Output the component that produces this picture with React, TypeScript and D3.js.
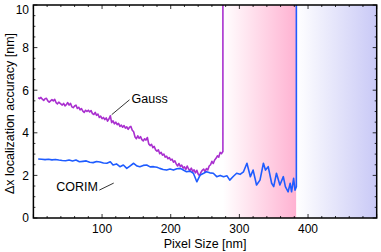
import React, { useEffect, useRef } from 'react';
import * as d3 from 'd3';

// Gauss fit: localization accuracy vs pixel size (fails past ~276 nm)
const gaussPoints: [number, number][] = [
  [7, 5.65], [9, 5.6], [11, 5.66], [13, 5.58], [15, 5.52], [17, 5.6], [19, 5.62], [21, 5.5],
  [23, 5.44], [25, 5.5], [27, 5.56], [29, 5.5], [31, 5.57], [33, 5.42], [35, 5.36], [37, 5.44],
  [39, 5.38], [42, 5.3], [44, 5.38], [46, 5.26], [48, 5.32], [50, 5.42], [52, 5.3], [54, 5.38],
  [56, 5.22], [58, 5.18], [60, 5.26], [62, 5.3], [64, 5.14], [66, 5.2], [68, 5.08], [70, 5.14],
  [72, 5.02], [74, 4.96], [76, 5.06], [78, 5.0], [80, 5.06], [82, 4.98], [84, 5.04], [86, 4.9],
  [88, 4.86], [90, 4.96], [92, 4.82], [94, 4.88], [96, 4.72], [98, 4.78], [100, 4.66], [102, 4.72],
  [104, 4.62], [106, 4.7], [108, 4.55], [110, 4.65], [112, 4.8], [114, 4.48], [116, 4.56], [118, 4.42],
  [120, 4.5], [122, 4.38], [124, 4.44], [126, 4.3], [128, 4.36], [130, 4.26], [132, 4.34], [134, 4.22],
  [136, 4.28], [138, 4.16], [140, 4.26], [142, 4.3], [144, 4.12], [146, 4.05], [148, 3.8], [150, 3.72],
  [152, 3.86], [154, 3.74], [156, 3.82], [158, 3.68], [160, 3.62], [162, 3.72], [164, 3.66], [166, 3.78],
  [168, 3.48], [170, 3.4], [172, 3.46], [174, 3.3], [176, 3.36], [178, 3.2], [180, 3.14], [182, 3.2],
  [184, 3.02], [186, 3.08], [188, 2.95], [190, 3.0], [192, 2.86], [194, 2.9], [196, 2.78], [198, 2.84],
  [200, 2.72], [202, 2.76], [204, 2.62], [206, 2.68], [208, 2.54], [210, 2.44], [212, 2.56], [214, 2.42],
  [216, 2.48], [218, 2.34], [220, 2.4], [222, 2.28], [224, 2.44], [226, 2.3], [228, 2.22], [230, 2.34],
  [232, 2.18], [234, 2.26], [236, 2.12], [238, 2.24], [240, 2.06], [242, 1.98], [244, 2.14], [246, 2.24],
  [248, 2.3], [250, 2.18], [252, 2.32], [254, 2.26], [256, 2.44], [258, 2.5], [260, 2.66], [262, 2.56],
  [264, 2.72], [266, 2.8], [268, 2.92], [270, 2.86], [272, 3.08], [274, 3.02], [276, 3.12], [276, 10],
];

// CORIM: localization accuracy vs pixel size (fails past ~383 nm)
const corimPoints: [number, number][] = [
  [7, 2.77], [12, 2.76], [17, 2.74], [22, 2.76], [27, 2.73], [32, 2.75], [37, 2.72], [42, 2.7],
  [47, 2.69], [52, 2.72], [57, 2.68], [62, 2.72], [67, 2.64], [72, 2.66], [77, 2.68], [82, 2.62],
  [87, 2.6], [92, 2.65], [97, 2.63], [102, 2.58], [107, 2.57], [112, 2.64], [116, 2.49], [121, 2.54],
  [126, 2.41], [131, 2.49], [136, 2.33], [141, 2.45], [146, 2.57], [151, 2.44], [155, 2.41], [160, 2.47],
  [165, 2.49], [170, 2.4], [175, 2.41], [180, 2.38], [184, 2.33], [189, 2.28], [194, 2.25], [199, 2.3],
  [204, 2.25], [209, 2.31], [214, 2.33], [219, 2.24], [223, 2.17], [228, 2.2], [233, 2.1], [238, 1.7],
  [243, 2.02], [248, 2.1], [252, 2.17], [257, 2.12], [262, 2.1], [267, 1.94], [272, 2.0], [277, 1.94],
  [282, 1.98], [286, 1.78], [291, 1.95], [296, 2.1], [301, 2.05], [306, 2.17], [311, 2.57], [316, 1.94],
  [320, 2.25], [325, 1.55], [330, 1.78], [335, 2.57], [338, 2.25], [342, 2.41], [347, 1.63], [350, 1.47],
  [354, 2.1], [359, 1.55], [364, 1.94], [367, 1.47], [371, 1.23], [374, 1.63], [376, 1.23], [379, 1.86],
  [381, 1.31], [383, 1.47], [383, 10],
];

const gaussLimit = 276;
const corimLimit = 383;
const xTicks = [100, 200, 300, 400];
const yTicks = [0, 2, 4, 6, 8, 10];

const App = () => {
  const svgRef: any = useRef();

  useEffect(() => {
    const width = 381;
    const height = 252;
    const left = 33.4, right = 376.7, top = 5, bottom = 218;

    const x = d3.scaleLinear().domain([0, 500]).range([left, right]);
    const y = d3.scaleLinear().domain([0, 10]).range([bottom, top]);

    const svg = d3.select(svgRef.current)
      .attr('width', width)
      .attr('height', height);
    svg.selectAll('*').remove();

    const defs = svg.append('defs');
    const pink = defs.append('linearGradient').attr('id', 'pinkGrad');
    pink.append('stop').attr('offset', '0%').attr('stop-color', '#ffffff');
    pink.append('stop').attr('offset', '100%').attr('stop-color', '#ffb2d2');
    const blue = defs.append('linearGradient').attr('id', 'blueGrad');
    blue.append('stop').attr('offset', '0%').attr('stop-color', '#ffffff');
    blue.append('stop').attr('offset', '100%').attr('stop-color', '#c9c9f6');
    defs.append('clipPath').attr('id', 'plotClip')
      .append('rect')
      .attr('x', left).attr('y', top)
      .attr('width', right - left).attr('height', bottom - top);

    // shaded regions where each method breaks down
    svg.append('rect')
      .attr('x', x(gaussLimit)).attr('y', top)
      .attr('width', x(corimLimit) - x(gaussLimit)).attr('height', bottom - top)
      .attr('fill', 'url(#pinkGrad)');
    svg.append('rect')
      .attr('x', x(corimLimit)).attr('y', top)
      .attr('width', right - x(corimLimit)).attr('height', bottom - top)
      .attr('fill', 'url(#blueGrad)');

    const line = d3.line<[number, number]>()
      .x(d => x(d[0]))
      .y(d => y(d[1]));

    const plot = svg.append('g').attr('clip-path', 'url(#plotClip)');
    plot.append('path')
      .attr('d', line(gaussPoints))
      .attr('fill', 'none')
      .attr('stroke', '#a92fcf')
      .attr('stroke-width', 1.6)
      .attr('stroke-linejoin', 'round');
    plot.append('path')
      .attr('d', line(corimPoints))
      .attr('fill', 'none')
      .attr('stroke', '#1f5cff')
      .attr('stroke-width', 1.6)
      .attr('stroke-linejoin', 'round');

    // frame with inward ticks on all sides
    const ax = svg.append('g').attr('stroke', 'black');
    d3.range(0, 501, 20).forEach(v => {
      const len = v % 100 === 0 ? 4 : 2;
      ax.append('line').attr('x1', x(v)).attr('x2', x(v)).attr('y1', bottom).attr('y2', bottom - len).attr('stroke-width', 0.8);
      ax.append('line').attr('x1', x(v)).attr('x2', x(v)).attr('y1', top).attr('y2', top + len).attr('stroke-width', 0.8);
    });
    d3.range(0, 10.01, 0.5).forEach(v => {
      const len = v % 2 === 0 ? 4 : 2;
      ax.append('line').attr('y1', y(v)).attr('y2', y(v)).attr('x1', left).attr('x2', left + len).attr('stroke-width', 0.8);
      ax.append('line').attr('y1', y(v)).attr('y2', y(v)).attr('x1', right).attr('x2', right - len).attr('stroke-width', 0.8);
    });
    svg.append('rect')
      .attr('x', left).attr('y', top)
      .attr('width', right - left).attr('height', bottom - top)
      .attr('fill', 'none')
      .attr('stroke', 'black')
      .attr('stroke-width', 1.5);

    const font = 'Liberation Sans, Arial, sans-serif';

    svg.selectAll('.xt').data(xTicks).enter().append('text')
      .attr('x', d => x(d)).attr('y', 232.5)
      .attr('text-anchor', 'middle')
      .attr('font-family', font).attr('font-size', 12)
      .text(d => d);
    svg.selectAll('.yt').data(yTicks).enter().append('text')
      .attr('x', 29).attr('y', d => Math.max(y(d), 9.3) + 4.3)
      .attr('text-anchor', 'end')
      .attr('font-family', font).attr('font-size', 12)
      .text(d => d);

    svg.append('text')
      .attr('x', (left + right) / 2).attr('y', 247.5)
      .attr('text-anchor', 'middle')
      .attr('font-family', font).attr('font-size', 12.5)
      .text('Pixel Size [nm]');
    svg.append('text')
      .attr('transform', `translate(14, ${(top + bottom) / 2 + 2}) rotate(-90)`)
      .attr('text-anchor', 'middle')
      .attr('font-family', font).attr('font-size', 12.5)
      .text('Δx localization accuracy [nm]');

    // annotations
    svg.append('line')
      .attr('x1', x(114)).attr('y1', y(4.85))
      .attr('x2', x(140)).attr('y2', y(5.55))
      .attr('stroke', 'black').attr('stroke-width', 0.8);
    svg.append('text')
      .attr('x', x(143)).attr('y', y(5.6) + 4.3)
      .attr('font-family', font).attr('font-size', 12.5)
      .text('Gauss');
    svg.append('line')
      .attr('x1', x(96)).attr('y1', y(1.31))
      .attr('x2', x(117)).attr('y2', y(1.64))
      .attr('stroke', 'black').attr('stroke-width', 0.8);
    svg.append('text')
      .attr('x', x(94)).attr('y', y(1.47) + 4.3)
      .attr('text-anchor', 'end')
      .attr('font-family', font).attr('font-size', 12.5)
      .text('CORIM');
  }, []);

  return <svg ref={svgRef} style={{ position: 'absolute', left: 0, top: 0 }}></svg>;
};

export default App;
